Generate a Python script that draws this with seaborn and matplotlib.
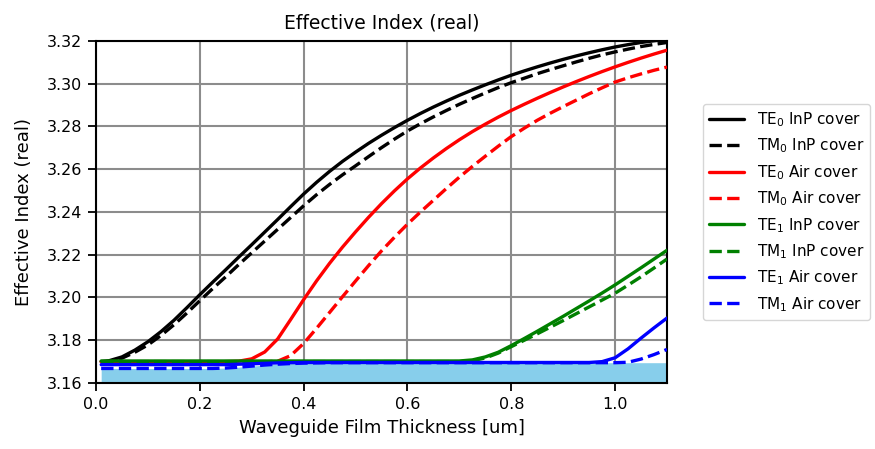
import numpy as np
import pandas as pd
import matplotlib
matplotlib.use("Agg")
import matplotlib.pyplot as plt
import seaborn as sns

# Film thickness samples [um]
thickness = [0.010, 0.025, 0.050, 0.075, 0.100, 0.125, 0.150, 0.175, 0.200, 0.225,
             0.250, 0.275, 0.300, 0.325, 0.350, 0.375, 0.400, 0.425, 0.450, 0.475,
             0.500, 0.525, 0.550, 0.575, 0.600, 0.625, 0.650, 0.675, 0.700, 0.725,
             0.750, 0.775, 0.800, 0.825, 0.850, 0.875, 0.900, 0.925, 0.950, 0.975,
             1.000, 1.025, 1.050, 1.075, 1.100]

te0_inp = [3.1700, 3.1704, 3.1722, 3.1754, 3.1793, 3.1840, 3.1893, 3.1952, 3.2013, 3.2072,
           3.2130, 3.2189, 3.2247, 3.2306, 3.2365, 3.2425, 3.2484, 3.2539, 3.2590, 3.2637,
           3.2680, 3.2721, 3.2759, 3.2795, 3.2829, 3.2861, 3.2891, 3.2919, 3.2946, 3.2971,
           3.2995, 3.3018, 3.3040, 3.3060, 3.3079, 3.3097, 3.3114, 3.3130, 3.3145, 3.3159,
           3.3172, 3.3183, 3.3193, 3.3201, 3.3208]
tm0_inp = [3.1698, 3.1701, 3.1716, 3.1744, 3.1778, 3.1822, 3.1872, 3.1927, 3.1985, 3.2042,
           3.2097, 3.2154, 3.2209, 3.2264, 3.2319, 3.2374, 3.2429, 3.2481, 3.2529, 3.2574,
           3.2616, 3.2659, 3.2701, 3.2741, 3.2779, 3.2813, 3.2845, 3.2875, 3.2904, 3.2931,
           3.2957, 3.2982, 3.3005, 3.3026, 3.3047, 3.3066, 3.3084, 3.3102, 3.3119, 3.3135,
           3.3149, 3.3162, 3.3174, 3.3184, 3.3193]
te0_air = [3.1700, 3.1700, 3.1700, 3.1700, 3.1700, 3.1700, 3.1700, 3.1700, 3.1700, 3.1700,
           3.1700, 3.1702, 3.1713, 3.1745, 3.1806, 3.1897, 3.1990, 3.2078, 3.2160, 3.2236,
           3.2307, 3.2375, 3.2439, 3.2499, 3.2555, 3.2606, 3.2653, 3.2697, 3.2738, 3.2776,
           3.2811, 3.2844, 3.2875, 3.2904, 3.2932, 3.2959, 3.2985, 3.3010, 3.3034, 3.3057,
           3.3079, 3.3100, 3.3120, 3.3139, 3.3157]
tm0_air = [3.1699, 3.1699, 3.1699, 3.1699, 3.1699, 3.1699, 3.1699, 3.1699, 3.1699, 3.1699,
           3.1699, 3.1699, 3.1699, 3.1699, 3.1702, 3.1728, 3.1785, 3.1856, 3.1930, 3.2004,
           3.2077, 3.2149, 3.2218, 3.2282, 3.2343, 3.2400, 3.2455, 3.2510, 3.2563, 3.2613,
           3.2661, 3.2708, 3.2753, 3.2792, 3.2829, 3.2862, 3.2893, 3.2923, 3.2953, 3.2981,
           3.3008, 3.3028, 3.3046, 3.3063, 3.3078]
te1_inp = [3.1703, 3.1703, 3.1703, 3.1703, 3.1703, 3.1703, 3.1703, 3.1703, 3.1703, 3.1703,
           3.1703, 3.1703, 3.1703, 3.1703, 3.1703, 3.1703, 3.1703, 3.1703, 3.1703, 3.1703,
           3.1703, 3.1703, 3.1703, 3.1703, 3.1703, 3.1703, 3.1703, 3.1703, 3.1703, 3.1708,
           3.1722, 3.1744, 3.1775, 3.1808, 3.1842, 3.1877, 3.1912, 3.1948, 3.1984, 3.2021,
           3.2059, 3.2099, 3.2139, 3.2180, 3.2221]
tm1_inp = [3.1700, 3.1700, 3.1700, 3.1700, 3.1700, 3.1700, 3.1700, 3.1700, 3.1700, 3.1700,
           3.1700, 3.1700, 3.1700, 3.1700, 3.1700, 3.1700, 3.1700, 3.1700, 3.1700, 3.1700,
           3.1700, 3.1700, 3.1700, 3.1700, 3.1700, 3.1700, 3.1700, 3.1700, 3.1700, 3.1704,
           3.1717, 3.1740, 3.1770, 3.1800, 3.1830, 3.1861, 3.1892, 3.1924, 3.1956, 3.1988,
           3.2020, 3.2058, 3.2097, 3.2138, 3.2180]
te1_air = [3.1686, 3.1686, 3.1686, 3.1686, 3.1686, 3.1686, 3.1686, 3.1686, 3.1686, 3.1686,
           3.1686, 3.1688, 3.1690, 3.1692, 3.1694, 3.1695, 3.1696, 3.1696, 3.1696, 3.1696,
           3.1696, 3.1696, 3.1696, 3.1696, 3.1696, 3.1696, 3.1696, 3.1696, 3.1696, 3.1696,
           3.1696, 3.1696, 3.1696, 3.1696, 3.1696, 3.1696, 3.1696, 3.1696, 3.1696, 3.1700,
           3.1718, 3.1760, 3.1810, 3.1858, 3.1904]
tm1_air = [3.1668, 3.1668, 3.1668, 3.1668, 3.1668, 3.1668, 3.1668, 3.1668, 3.1668, 3.1668,
           3.1670, 3.1674, 3.1679, 3.1684, 3.1688, 3.1691, 3.1693, 3.1694, 3.1695, 3.1695,
           3.1695, 3.1695, 3.1695, 3.1695, 3.1695, 3.1695, 3.1695, 3.1695, 3.1695, 3.1695,
           3.1695, 3.1695, 3.1695, 3.1695, 3.1695, 3.1695, 3.1695, 3.1695, 3.1695, 3.1695,
           3.1695, 3.1697, 3.1712, 3.1733, 3.1757]
# Substrate light line; the radiation region below it is shaded
substrate = [3.1668, 3.1668, 3.1668, 3.1668, 3.1668, 3.1668, 3.1668, 3.1668, 3.1668, 3.1668,
             3.1670, 3.1674, 3.1679, 3.1684, 3.1688, 3.1691, 3.1693, 3.1694, 3.1695, 3.1695,
             3.1695, 3.1695, 3.1695, 3.1695, 3.1695, 3.1695, 3.1695, 3.1695, 3.1695, 3.1695,
             3.1695, 3.1695, 3.1695, 3.1695, 3.1695, 3.1695, 3.1695, 3.1695, 3.1695, 3.1695,
             3.1695, 3.1695, 3.1695, 3.1695, 3.1695]

labels = [r"TE$_0$ InP cover", r"TM$_0$ InP cover", r"TE$_0$ Air cover", r"TM$_0$ Air cover",
          r"TE$_1$ InP cover", r"TM$_1$ InP cover", r"TE$_1$ Air cover", r"TM$_1$ Air cover"]
series = [te0_inp, tm0_inp, te0_air, tm0_air, te1_inp, tm1_inp, te1_air, tm1_air]
colors = ["black", "black", "red", "red", "green", "green", "blue", "blue"]
styles = ["-", "--", "-", "--", "-", "--", "-", "--"]

sns.set_theme(style="white")
plt.rcParams["font.family"] = ["DejaVu Sans"]
plt.rcParams.update({
    "text.color": "black",
    "axes.labelcolor": "black",
    "xtick.color": "black",
    "ytick.color": "black",
    "axes.edgecolor": "black",
    "axes.linewidth": 1.5,
    "xtick.bottom": True,
    "ytick.left": True,
})

fig = plt.figure(figsize=(8.75, 4.49), dpi=100)
ax = fig.add_axes([0.1097, 0.147, 0.6526, 0.7617])

ax.fill_between(thickness, 3.16, substrate, color="skyblue", linewidth=0, zorder=1)

for vals, lab, col, ls in zip(series, labels, colors, styles):
    sns.lineplot(x=thickness, y=vals, ax=ax, color=col, linestyle=ls, linewidth=2.4,
                 label=lab, zorder=3)

ax.set_xlim(0.0, 1.1)
ax.set_ylim(3.16, 3.32)
ax.set_xticks([0.0, 0.2, 0.4, 0.6, 0.8, 1.0])
ax.set_yticks(np.arange(3.16, 3.3201, 0.02))
ax.yaxis.set_major_formatter(matplotlib.ticker.FormatStrFormatter("%.2f"))
ax.tick_params(axis="both", labelsize=11.5, length=6, width=1.3, direction="out", pad=4)
ax.grid(True, color="#8c8c8c", linewidth=1.5, zorder=0)
ax.set_axisbelow(True)
for s in ax.spines.values():
    s.set_color("black")
    s.set_linewidth(1.5)

ax.set_title("Effective Index (real)", fontsize=13.5, pad=9)
ax.set_xlabel("Waveguide Film Thickness [um]", fontsize=13, labelpad=5)
ax.set_ylabel("Effective Index (real)", fontsize=13, labelpad=10)

ax.legend(loc="center left", bbox_to_anchor=(1.05, 0.5), fontsize=11, frameon=True,
          handlelength=2.3, edgecolor="#cccccc")

fig.savefig("out.png", dpi=100)
